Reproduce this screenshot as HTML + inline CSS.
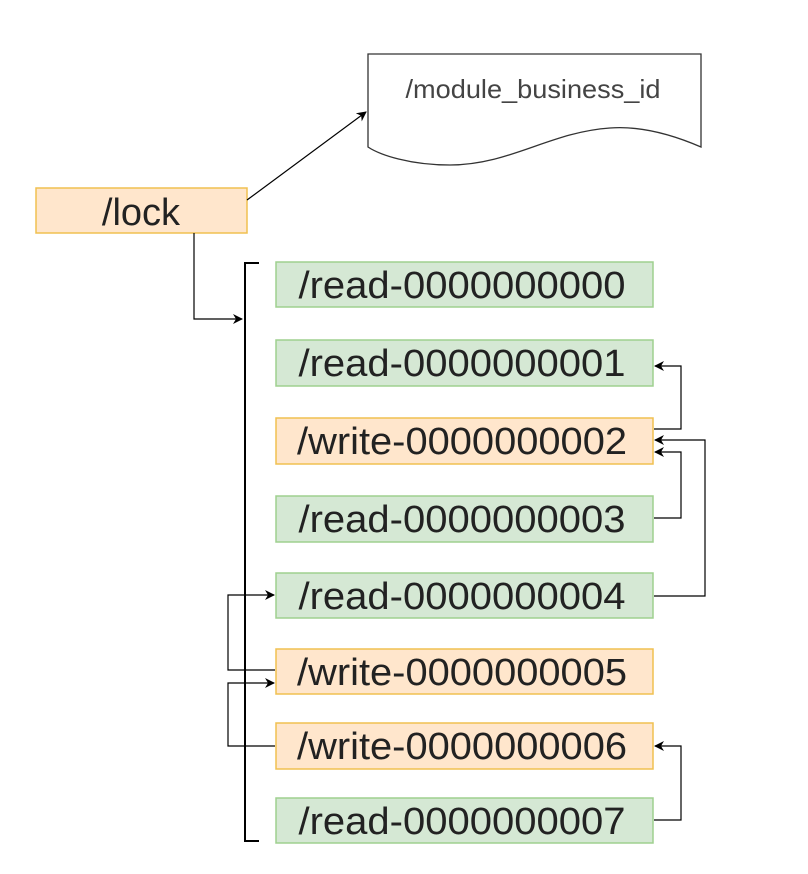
<!DOCTYPE html>
<html><head><meta charset="utf-8"><style>
html,body{margin:0;padding:0;background:#fff;}
svg{display:block;}
text{font-family:"Liberation Sans",Arial,sans-serif;}
</style></head><body>
<svg width="808" height="874" viewBox="0 0 808 874" xmlns="http://www.w3.org/2000/svg">
<defs>
<marker id="a" viewBox="0 0 10 10" refX="9" refY="5" markerWidth="10" markerHeight="10" markerUnits="userSpaceOnUse" orient="auto">
<path d="M0,0 L10,5 L0,10 L3,5 z" fill="#000"/>
</marker>
</defs>
<!-- document -->
<path d="M368,54 L701,54 L701,147 Q650,125 610,128 C550,132 510,165 450,165 C410,165 380,155 368,147 Z" fill="#fff" stroke="#333" stroke-width="1.3"/>
<text x="533" y="98" font-size="26" fill="#444" text-anchor="middle" textLength="255" lengthAdjust="spacingAndGlyphs">/module_business_id</text>
<!-- lock -->
<rect x="36" y="188" width="211" height="45" fill="#ffe6cc" stroke="#f0c050" stroke-width="1.5"/>
<text x="141" y="225" font-size="38" fill="#222" text-anchor="middle">/lock</text>
<line x1="247" y1="200" x2="366" y2="112" stroke="#000" stroke-width="1.2" marker-end="url(#a)"/>
<path d="M194,233 L194,319 L242,319" fill="none" stroke="#000" stroke-width="1.2" marker-end="url(#a)"/>
<!-- bracket -->
<path d="M259,263 L245,263 L245,841 L259,841" fill="none" stroke="#000" stroke-width="2"/>
<!-- boxes -->
<g font-size="38" fill="#222" text-anchor="middle">
<rect x="276" y="262" width="377" height="45" fill="#d5e8d4" stroke="#9fd08f" stroke-width="1.5"/>
<text x="462" y="298" textLength="327" lengthAdjust="spacingAndGlyphs">/read-0000000000</text>
<rect x="276" y="340" width="377" height="46" fill="#d5e8d4" stroke="#9fd08f" stroke-width="1.5"/>
<text x="462" y="376" textLength="327" lengthAdjust="spacingAndGlyphs">/read-0000000001</text>
<rect x="276" y="418" width="377" height="46" fill="#ffe6cc" stroke="#f0c050" stroke-width="1.5"/>
<text x="462" y="454" textLength="330" lengthAdjust="spacingAndGlyphs">/write-0000000002</text>
<rect x="276" y="496" width="377" height="46" fill="#d5e8d4" stroke="#9fd08f" stroke-width="1.5"/>
<text x="462" y="532" textLength="327" lengthAdjust="spacingAndGlyphs">/read-0000000003</text>
<rect x="276" y="573" width="377" height="45" fill="#d5e8d4" stroke="#9fd08f" stroke-width="1.5"/>
<text x="462" y="609" textLength="327" lengthAdjust="spacingAndGlyphs">/read-0000000004</text>
<rect x="276" y="649" width="377" height="45" fill="#ffe6cc" stroke="#f0c050" stroke-width="1.5"/>
<text x="462" y="685" textLength="330" lengthAdjust="spacingAndGlyphs">/write-0000000005</text>
<rect x="276" y="723" width="377" height="46" fill="#ffe6cc" stroke="#f0c050" stroke-width="1.5"/>
<text x="462" y="759" textLength="330" lengthAdjust="spacingAndGlyphs">/write-0000000006</text>
<rect x="276" y="798" width="377" height="45" fill="#d5e8d4" stroke="#9fd08f" stroke-width="1.5"/>
<text x="462" y="834" textLength="327" lengthAdjust="spacingAndGlyphs">/read-0000000007</text>
</g>
<!-- connectors -->
<g fill="none" stroke="#000" stroke-width="1.2">
<path d="M654,429 L681,429 L681,366 L655,366" marker-end="url(#a)"/>
<path d="M654,518 L681,518 L681,452 L655,452" marker-end="url(#a)"/>
<path d="M654,596 L705,596 L705,440 L655,440" marker-end="url(#a)"/>
<path d="M275,670 L228,670 L228,595 L274,595" marker-end="url(#a)"/>
<path d="M275,746 L228,746 L228,683 L274,683" marker-end="url(#a)"/>
<path d="M654,820 L681,820 L681,746 L655,746" marker-end="url(#a)"/>
</g>
</svg>
</body></html>
